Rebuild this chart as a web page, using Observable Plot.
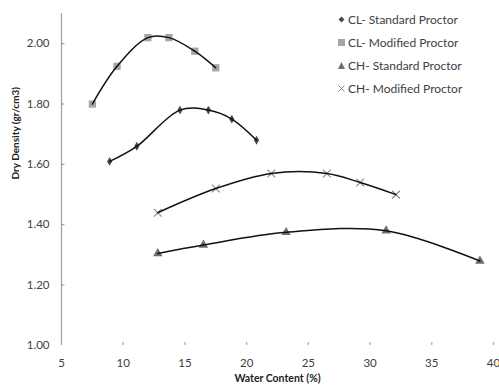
<!DOCTYPE html>
<html><head><meta charset="utf-8">
<script src="https://cdn.jsdelivr.net/npm/d3@7"></script>
<script src="https://cdn.jsdelivr.net/npm/@observablehq/plot@0.6"></script>
<style>
body{margin:0;background:#fff;}
#wrap{position:relative;width:499px;height:387px;overflow:hidden;}
#legend{position:absolute;left:337px;top:8px;font:12px Lato,"Open Sans",sans-serif;color:#404040;line-height:23px;}
#legend div{display:flex;align-items:center;white-space:pre;}
#legend svg{margin-right:2px;}
</style></head>
<body><div id="wrap"><div id="chart"></div><div id="legend"></div></div>
<script>
const seriesNames = ["CL- Standard Proctor", "CL- Modified Proctor", "CH- Standard Proctor", "CH- Modified Proctor"];
const clStdX = [8.9, 11.1, 14.6, 16.9, 18.8, 20.8];
const clStdY = [1.61, 1.66, 1.78, 1.78, 1.75, 1.68];
const clModX = [7.5, 9.5, 12.0, 13.7, 15.8, 17.5];
const clModY = [1.80, 1.925, 2.02, 2.02, 1.975, 1.92];
const chStdX = [12.8, 16.5, 23.2, 31.3, 38.9];
const chStdY = [1.305, 1.333, 1.375, 1.38, 1.28];
const chModX = [12.8, 17.5, 22.0, 26.5, 29.2, 32.1];
const chModY = [1.44, 1.52, 1.57, 1.57, 1.54, 1.50];
const xTicks = [5, 10, 15, 20, 25, 30, 35, 40];
const yTicks = [1.0, 1.2, 1.4, 1.6, 1.8, 2.0];

const seriesXs = [clStdX, clModX, chStdX, chModX];
const seriesYs = [clStdY, clModY, chStdY, chModY];
const data = [];
seriesNames.forEach((s, i) => seriesXs[i].forEach((x, j) => data.push({series: s, x, y: seriesYs[i][j]})));

const styles = [
  {symbol: "diamond", r: 2.7, fill: "#4a4a4a", stroke: null},
  {symbol: "square", r: 4.1, fill: "#a6a6a6", stroke: null},
  {symbol: "triangle", r: 3.5, fill: "#6e6e6e", stroke: null},
  {symbol: "times", r: 3.6, fill: null, stroke: "#8c8c8c"}
];

const dotMarks = seriesNames.map((s, i) => {
  const st = styles[i];
  const opts = {x: "x", y: "y", symbol: () => st.symbol, r: st.r};
  if (st.fill) { opts.fill = st.fill; opts.stroke = "none"; }
  else { opts.stroke = st.stroke; opts.fill = "none"; opts.strokeWidth = 1.2; }
  return Plot.dot(data.filter(d => d.series === s), opts);
});

const chart = Plot.plot({
  width: 499, height: 387,
  marginLeft: 61, marginRight: 6, marginTop: 13, marginBottom: 42,
  style: {fontFamily: "Lato, 'Open Sans', sans-serif", fontSize: "11.5px", color: "#404040", background: "#fff"},
  x: {domain: [5, 40]},
  y: {domain: [1.0, 2.1]},
  symbol: {type: "identity"},
  marks: [
    Plot.axisX(xTicks, {tickSize: 0, tickPadding: 13, label: null, tickFormat: d => String(d)}),
    Plot.axisY(yTicks, {tickSize: 0, tickPadding: 12, label: null, tickFormat: d3.format(".2f")}),
    Plot.ruleX([5], {stroke: "#a6a6a6", strokeWidth: 1.3}),
    Plot.ruleX(xTicks.slice(1), {x: d => d, y1: 1.0, y2: 1.01, stroke: "#b0b0b0", strokeWidth: 1.3}),
    Plot.ruleY(yTicks.slice(1), {y: d => d, x1: 5, x2: 5.28, stroke: "#909090"}),
    ...dotMarks,
    Plot.line(data, {x: "x", y: "y", z: "series", curve: "catmull-rom", stroke: "#111", strokeWidth: 1.5}),
    Plot.text(["Dry Density (gr/cm3)"], {frameAnchor: "left", dx: -46, rotate: -90, fontWeight: "bold", fontSize: 10, fill: "#222"}),
    Plot.text(["Water Content (%)"], {frameAnchor: "bottom", dy: 36, fontWeight: "bold", fontSize: 10.5, fill: "#222"})
  ]
});
document.getElementById("chart").appendChild(chart);

const legend = document.getElementById("legend");
const glyphs = [
  '<svg width="9" height="9"><path d="M4.5,1.5L7.5,4.5L4.5,7.5L1.5,4.5Z" fill="#4a4a4a"/></svg>',
  '<svg width="9" height="9"><rect x="1" y="1" width="7" height="7" fill="#a6a6a6"/></svg>',
  '<svg width="9" height="9"><path d="M4.5,1L8,8H1Z" fill="#6e6e6e"/></svg>',
  '<svg width="9" height="9"><path d="M1.5,1.5L7.5,7.5M7.5,1.5L1.5,7.5" stroke="#8c8c8c" stroke-width="1"/></svg>'
];
seriesNames.forEach((s, i) => {
  const row = document.createElement("div");
  row.innerHTML = glyphs[i] + "<span></span>";
  row.querySelector("span").textContent = s;
  legend.appendChild(row);
});
</script></body></html>
